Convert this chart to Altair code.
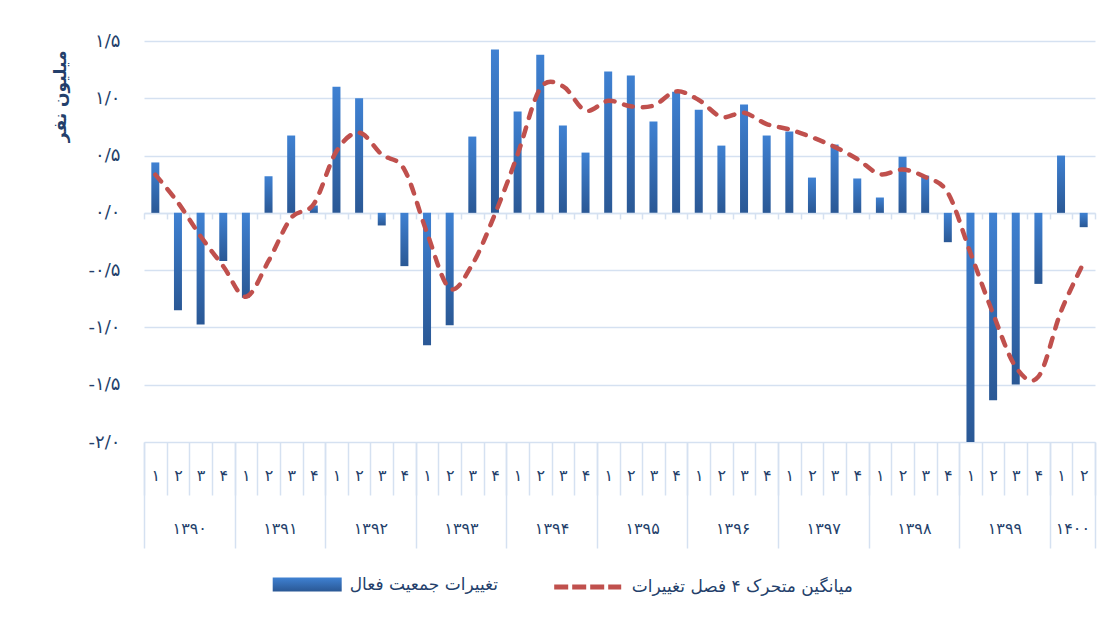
import json
import altair as alt
import pandas as pd

# ---------------- data ----------------
years = [1390, 1391, 1392, 1393, 1394, 1395, 1396, 1397, 1398, 1399, 1400]
year_labels = ["۱۳۹۰", "۱۳۹۱", "۱۳۹۲", "۱۳۹۳", "۱۳۹۴", "۱۳۹۵",
               "۱۳۹۶", "۱۳۹۷", "۱۳۹۸", "۱۳۹۹", "۱۴۰۰"]
quarters_per_year = [4, 4, 4, 4, 4, 4, 4, 4, 4, 4, 2]
quarter_labels = ["۱", "۲", "۳", "۴"]

active_change = [0.44, -0.85, -0.975, -0.42,
                 -0.74, 0.32, 0.675, 0.064,
                 1.10, 1.0, -0.11, -0.465,
                 -1.155, -0.98, 0.666, 1.425,
                 0.884, 1.38, 0.762, 0.526,
                 1.233, 1.198, 0.797, 1.058,
                 0.90, 0.587, 0.945, 0.675,
                 0.71, 0.308, 0.596, 0.30,
                 0.134, 0.49, 0.325, -0.256,
                 -2.0, -1.635, -1.498, -0.62,
                 0.50, -0.125]

moving_avg = [0.334, 0.09, -0.204, -0.466,
              -0.733, -0.42, -0.044, 0.078,
              0.538, 0.70, 0.509, 0.378,
              -0.175, -0.66, -0.45, -0.01,
              0.51, 1.085, 1.105, 0.892,
              0.978, 0.93, 0.936, 1.06,
              0.985, 0.838, 0.873, 0.775,
              0.728, 0.66, 0.576, 0.47,
              0.338, 0.378, 0.313, 0.175,
              -0.35, -0.88, -1.345, -1.43,
              -0.86, -0.436]

y_ticks = [-2.0, -1.5, -1.0, -0.5, 0.0, 0.5, 1.0, 1.5]
y_tick_labels = ["-۲/۰", "-۱/۵", "-۱/۰", "-۰/۵", "۰/۰", "۰/۵", "۱/۰", "۱/۵"]

bar_name = "تغییرات جمعیت فعال"
line_name = "میانگین متحرک ۴ فصل تغییرات"
y_title = "میلیون نفر"

periods = [f"{y}-{q}" for y, n in zip(years, quarters_per_year) for q in range(1, n + 1)]
df = pd.DataFrame({"period": periods, "change": active_change, "ma": moving_avg})
df["bar_series"] = bar_name
df["line_series"] = line_name

# ---------------- styling ----------------
FONT = "DejaVu Sans"
NAVY = "#243F6B"
GRID = "#D5E1F1"
BAR_TOP = "#3F81D2"
BAR_BOTTOM = "#2A5895"
RED = "#C0504D"
W, H = 951, 401

y_scale = alt.Scale(domain=[-2.0, 1.5], nice=False, zero=False)
y_label_expr = (f"{json.dumps(y_tick_labels, ensure_ascii=False)}"
                f"[round((datum.value + 2) * 2)]")
y_axis = alt.Axis(
    values=y_ticks, labelExpr=y_label_expr, grid=True, gridColor=GRID,
    gridWidth=1.5, domain=False, ticks=False, labelPadding=24,
    labelFontSize=18, labelColor=NAVY, labelFont=FONT,
    title=y_title, titleFont=FONT, titleFontSize=17, titleFontWeight="bold",
    titleColor=NAVY, titleAngle=270, titleX=-84, titleY=9,
    titleAlign="right", titleBaseline="middle",
)

def x_scale():
    return alt.Scale(type="band", domain=periods, paddingInner=0, paddingOuter=0)

# axis drawn on the zero line (small ticks)
zero_axis = alt.Axis(
    title=None, orient="bottom", offset=-229.1, labels=False, tickBand="extent",
    tickSize=6, tickColor=GRID, tickWidth=1.5, domain=True, domainColor=GRID,
    domainWidth=1.5, grid=False,
)

q_list = json.dumps([""] + quarter_labels, ensure_ascii=False)
quarter_axis = alt.Axis(
    title=None, orient="bottom", tickBand="extent", tickSize=53, tickColor=GRID,
    tickWidth=1.5, domain=False, grid=False, labelPadding=-20,
    labelBaseline="middle", labelFontSize=16, labelColor=NAVY, labelFont=FONT,
    labelAngle=0, labelOverlap=False, labelBound=False,
    labelExpr=f"isValid(datum.value) ? {q_list}[toNumber(substring(datum.value, 5, 6))] : ''",
)

y_list = json.dumps(year_labels, ensure_ascii=False)
year_axis = alt.Axis(
    title=None, orient="bottom", tickBand="extent", tickSize=106,
    tickColor={"condition": {"test": "datum.extra || (isValid(datum.value) && (substring(datum.value, 5, 6) == '4' || datum.value == '1400-2'))",
                             "value": GRID}, "value": "transparent"},
    tickWidth=1.5, domain=False, grid=False, labelPadding=-20, labelOffset=11.3,
    labelBaseline="middle", labelFontSize=16, labelColor=NAVY, labelFont=FONT,
    labelAngle=0, labelOverlap=False, labelBound=False,
    labelExpr=(f"isValid(datum.value) && ((substring(datum.value, 5, 6) == '2' && substring(datum.value, 0, 4) != '1400') || datum.value == '1400-1') "
               f"? {y_list}[toNumber(substring(datum.value, 0, 4)) - 1390] : ''"),
)

gradient = alt.Gradient(
    gradient="linear",
    stops=[alt.GradientStop(color=BAR_TOP, offset=0),
           alt.GradientStop(color=BAR_BOTTOM, offset=1)],
    x1=0, x2=0, y1=0, y2=1,
)

base = alt.Chart(df)

bars = base.mark_bar(size=8, color=gradient).encode(
    x=alt.X("period:O", scale=x_scale(), axis=zero_axis, sort=periods),
    y=alt.Y("change:Q", scale=y_scale, axis=y_axis),
    opacity=alt.Opacity(
        "bar_series:O",
        scale=alt.Scale(domain=[bar_name], range=[1]),
        legend=alt.Legend(
            title=None, orient="none", legendX=128.7, legendY=509,
            symbolType="M-1,-0.2H1V0.2H-1Z", symbolSize=4761,
            symbolFillColor="#3569AF", symbolStrokeColor="#3569AF",
            symbolStrokeWidth=0, symbolOpacity=1, labelOffset=8,
            labelFont=FONT, labelFontSize=17, labelColor=NAVY, padding=0,
            labelLimit=400,
        ),
    ),
)

line = base.mark_line(
    strokeWidth=4.5, strokeDash=[9, 10], strokeCap="round",
    interpolate="cardinal", tension=0,
).encode(
    x=alt.X("period:O", scale=x_scale(), axis=quarter_axis, sort=periods),
    y=alt.Y("ma:Q", scale=y_scale, axis=y_axis),
    color=alt.Color(
        "line_series:N",
        scale=alt.Scale(domain=[line_name], range=[RED]),
        legend=alt.Legend(
            title=None, orient="none", legendX=407.7, legendY=510,
            symbolType="stroke", symbolSize=4489, symbolStrokeWidth=5,
            symbolDash=[14, 4], labelOffset=8, labelFont=FONT,
            labelFontSize=17, labelColor=NAVY, padding=0, labelLimit=400,
        ),
    ),
)

ghost = base.mark_point(opacity=0).encode(
    x=alt.X("period:O", scale=x_scale(), axis=year_axis, sort=periods),
    y=alt.Y("change:Q", scale=y_scale, axis=y_axis),
)

chart = (
    alt.layer(bars, line, ghost)
    .resolve_scale(x="independent")
    .properties(
        width=W, height=H,
        autosize=alt.AutoSizeParams(type="none"),
        padding={"left": 136, "top": 33, "right": 10, "bottom": 175},
        background="white",
    )
    .configure_view(stroke=None)
)

chart.save("out.html", embed_options={"renderer": "svg", "actions": False})
